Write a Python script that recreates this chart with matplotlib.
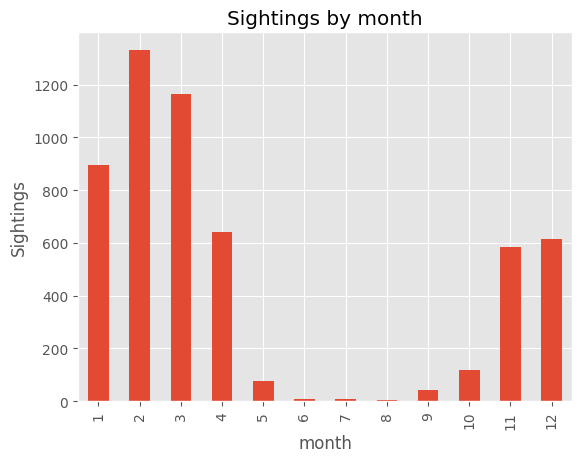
import matplotlib
matplotlib.use("Agg")
import matplotlib.pyplot as plt
import pandas as pd

plt.style.use("ggplot")

months = [1, 2, 3, 4, 5, 6, 7, 8, 9, 10, 11, 12]
sightings = [895, 1333, 1163, 641, 76, 8, 7, 3, 42, 118, 585, 615]

s = pd.Series(sightings, index=pd.Index(months, name="month"))
fig = plt.figure(figsize=(5.81, 4.6), dpi=100)
ax = fig.add_axes([0.134, 0.126, 0.851, 0.802])
s.plot(kind="bar", ax=ax)
ax.set_title("Sightings by month")
ax.set_ylabel("Sightings")
ax.set_xlabel("month")
fig.savefig("out.png", dpi=100)
